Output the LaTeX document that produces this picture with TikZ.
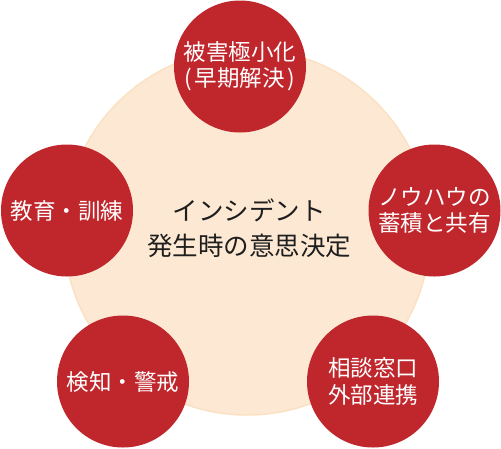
\documentclass[tikz,border=0pt]{standalone}
\usepackage{fontspec}
\setmainfont{Noto Sans CJK JP}
\definecolor{cred}{HTML}{C0272D}
\definecolor{peach}{HTML}{FDE9D3}
\definecolor{peachedge}{HTML}{FBE1C3}
\definecolor{ink}{HTML}{1E1E1E}
\begin{document}
\begin{tikzpicture}[x=1pt,y=-1pt,
  hub/.style={circle, fill=peach, draw=peachedge, line width=1.5pt, minimum size=366pt, inner sep=0pt},
  hubtext/.style={align=center, text=ink, inner sep=0pt, font=\fontsize{25.5}{35}\selectfont},
  spoke/.style={circle, fill=cred, minimum size=132pt, inner sep=0pt, align=center, text=white, font=\fontsize{22.5}{26.5}\selectfont}]
\useasboundingbox (0,0) rectangle (501,448);
\node[hub] (hub) at (247,232) {};
\node[hubtext] (center) at (249,228) {インシデント\\発生時の意思決定};
\node[spoke] (top) at (240,66.5) {被害極小化\\(\kern0.12em早期解決\kern0.12em)};
\node[spoke] (right) at (434.5,210.5) {ノウハウの\\蓄積と共有};
\node[spoke] (left) at (67,210.5) {教育・訓練};
\node[spoke] (bl) at (123,381.5) {検知・警戒};
\node[spoke] (br) at (373,381.5) {相談窓口\\外部連携};
\end{tikzpicture}
\end{document}
